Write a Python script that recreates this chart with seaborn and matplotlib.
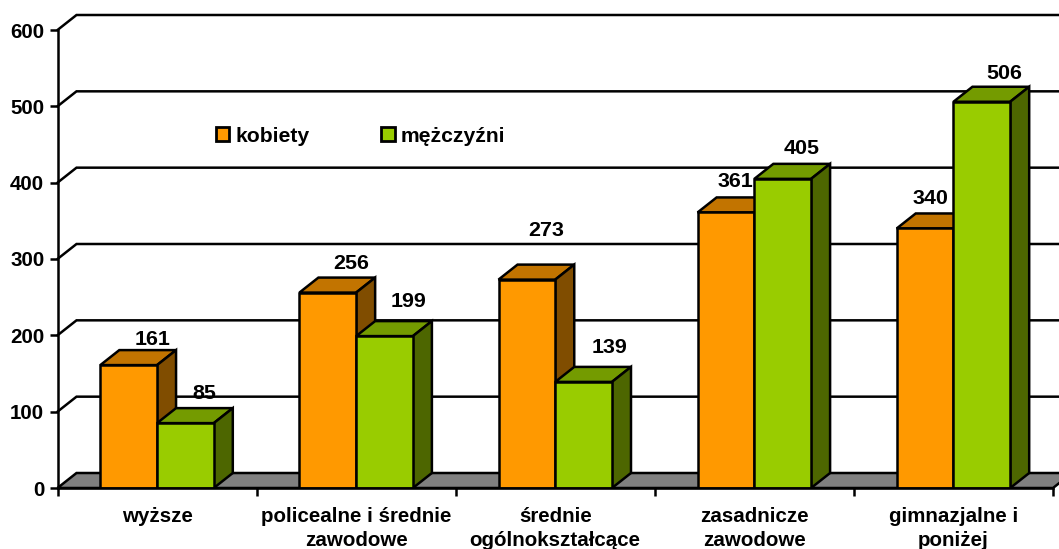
import pandas as pd
import matplotlib
matplotlib.use('Agg')
import matplotlib.pyplot as plt
from matplotlib.colors import to_rgb
from matplotlib.patches import Polygon, Rectangle
import seaborn as sns

# === data ===
categories = ['wyższe', 'policealne i średnie\nzawodowe', 'średnie\nogólnokształcące',
              'zasadnicze\nzawodowe', 'gimnazjalne i\nponiżej']
kobiety = [161, 256, 273, 361, 340]
mezczyzni = [85, 199, 139, 405, 506]

# label offsets in pixels from the bar's front top centre, same left to right order as the bars
label_offsets = [(24, 26), (19, 30), (23, 29), (24, 35), (19, 49),
                 (26, 34), (9, 31), (19, 30), (5, 30), (22, 28)]

W, H = 1059, 549
FONT = 20.5 * 0.72  # 20.5 px at 100 dpi
LABEL_FONT = 21.5 * 0.72
LEGEND_FONT = 21.2 * 0.72
LW = 1.8

sns.set_theme(style='white')
plt.rcParams['font.family'] = ['Liberation Sans', 'DejaVu Sans']
plt.rcParams['font.weight'] = 'bold'
plt.rcParams['text.color'] = 'black'
plt.rcParams['xtick.labelcolor'] = 'black'
plt.rcParams['ytick.labelcolor'] = 'black'

df = pd.DataFrame({
    'cat': categories * 2,
    'val': kobiety + mezczyzni,
    'plec': ['kobiety'] * 5 + ['mężczyźni'] * 5,
})

fig = plt.figure(figsize=(W / 100, H / 100), dpi=100)
ax = fig.add_axes([57.5 / W, (H - 488) / H, (1053 - 57.5) / W, 458 / H])

sns.barplot(data=df, x='cat', y='val', hue='plec', palette=['#FF9900', '#99CC00'],
            width=0.57, gap=0, saturation=1, edgecolor='black', linewidth=LW, ax=ax)

ax.set_xlim(-0.5, 4.5)
ax.set_ylim(0, 600)
ax.set_xlabel('')
ax.set_ylabel('')

# grab the bars before the extra faces get added
bars = [p for p in ax.patches if isinstance(p, Rectangle) and p.get_width() > 0]
bars = sorted(bars, key=lambda p: p.get_x())

# depth of the fake 3d box, in data units (19 px right, 15 px up)
dx = 19 / 199.1
dy = 15 / 458 * 600

# floor
x0, x1 = ax.get_xlim()
ax.add_patch(Polygon([(x0, 0), (x1, 0), (x1 + dx, dy), (x0 + dx, dy)], closed=True,
                     facecolor='#808080', edgecolor='black', linewidth=LW, clip_on=False, zorder=1))

# back wall grid lines with the little diagonal at the left
for v in [100, 200, 300, 400, 500, 600]:
    ax.plot([x0, x0 + dx, x1 + dx], [v, v + dy, v + dy], color='black', lw=LW,
            clip_on=False, zorder=1, solid_joinstyle='miter')

# top and side faces, left to right so the next bar covers the side of the one before
for i, bar in enumerate(bars):
    l = bar.get_x()
    r = l + bar.get_width()
    h = bar.get_height()
    col = to_rgb(bar.get_facecolor()[:3])
    top = tuple(c * 0.76 for c in col)
    side = tuple(c * 0.5 for c in col)
    z = 3 + i
    bar.set_zorder(z + 0.5)
    bar.set_joinstyle('miter')
    ax.add_patch(Polygon([(l, h), (r, h), (r + dx, h + dy), (l + dx, h + dy)], closed=True,
                         facecolor=top, edgecolor='black', linewidth=LW, zorder=z, joinstyle='miter'))
    ax.add_patch(Polygon([(r, 0), (r + dx, dy), (r + dx, h + dy), (r, h)], closed=True,
                         facecolor=side, edgecolor='black', linewidth=LW, zorder=z, joinstyle='miter'))
    ax.annotate(str(int(h)), xy=(l + bar.get_width() / 2, h), xytext=label_offsets[i],
                textcoords='offset pixels', ha='center', va='center',
                fontsize=LABEL_FONT, fontweight='bold', color='black', zorder=30)

# axes
sns.despine(ax=ax, top=True, right=True)
for s in ['left', 'bottom']:
    ax.spines[s].set_linewidth(LW)
    ax.spines[s].set_color('black')
    ax.spines[s].set_zorder(20)

ax.set_yticks([0, 100, 200, 300, 400, 500, 600])
ax.tick_params(axis='y', left=True, length=6, width=LW, color='black', pad=3.5,
               labelsize=FONT, labelcolor='black')
ax.set_xticks([-0.5, 0.5, 1.5, 2.5, 3.5, 4.5])
ax.set_xticklabels([])
ax.set_xticks(range(5), labels=categories, minor=True)
ax.tick_params(axis='x', which='major', bottom=True, length=6, width=LW, color='black')
ax.tick_params(axis='x', which='minor', bottom=False, length=0, pad=13.5, labelsize=FONT, labelcolor='black')
for t in ax.get_xticklabels(minor=True):
    t.set_linespacing(1.38)
    t.set_fontweight('bold')
for t in ax.get_yticklabels():
    t.set_fontweight('bold')

# legend
handles, labels = ax.get_legend_handles_labels()
leg = ax.legend(handles, labels, ncol=2, frameon=False, fontsize=LEGEND_FONT,
                loc='center left', bbox_to_anchor=(215.5 / W, (H - 136) / H),
                bbox_transform=fig.transFigure, borderpad=0, borderaxespad=0,
                handlelength=0.66, handleheight=0.66, handletextpad=0.26, columnspacing=3.4)
for p in leg.get_patches():
    p.set_linewidth(2.0)

fig.savefig('out.png', dpi=100, facecolor='white')
